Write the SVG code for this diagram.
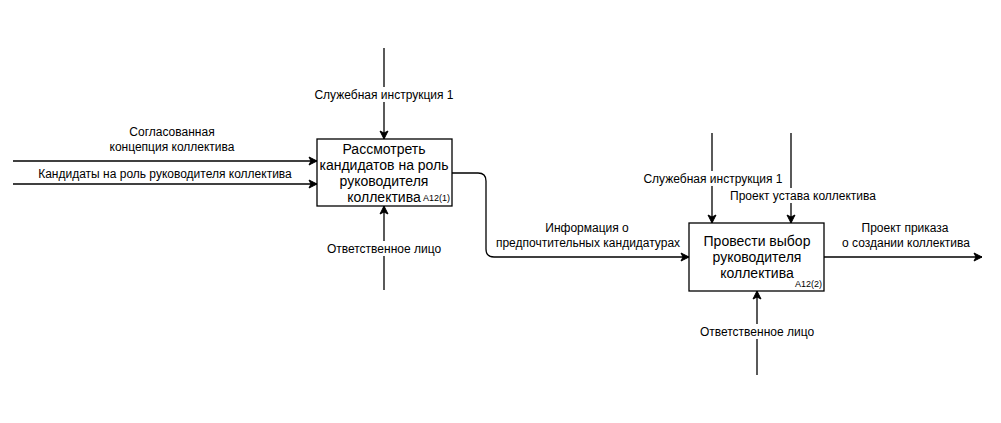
<svg xmlns="http://www.w3.org/2000/svg" width="1001" height="423" viewBox="0 0 1001 423">
<defs>
<marker id="arr" markerWidth="10" markerHeight="10" refX="9" refY="5" orient="auto" markerUnits="userSpaceOnUse">
<path d="M1,1 L9,5 L1,9 L3,5 Z" fill="#000" stroke="#000" stroke-width="1"/>
</marker>
<style>
.ln{fill:none;stroke:#000;stroke-width:1.3}
.box{fill:#fff;stroke:#000;stroke-width:1.3}
.lb{font-family:"Liberation Sans",Arial,sans-serif;font-size:12px;fill:#000;text-anchor:middle}
.bt{font-family:"Liberation Sans",Arial,sans-serif;font-size:14px;fill:#000;text-anchor:middle}
.id{font-family:"Liberation Sans",Arial,sans-serif;font-size:9px;fill:#000;text-anchor:end}
.bg{fill:#fff}
</style>
</defs>
<rect width="1001" height="423" fill="#fff"/>
<g id="connectors">
<path class="ln" d="M13,161 H317" marker-end="url(#arr)"/>
<path class="ln" d="M13,184 H317" marker-end="url(#arr)"/>
<path class="ln" d="M384,48 V139" marker-end="url(#arr)"/>
<path class="ln" d="M384,290 V206" marker-end="url(#arr)"/>
<path class="ln" d="M452,173 H478 Q486,173 486,181 V249 Q486,257 494,257 H689" marker-end="url(#arr)"/>
<path class="ln" d="M712,133 V223" marker-end="url(#arr)"/>
<path class="ln" d="M791,133 V223" marker-end="url(#arr)"/>
<path class="ln" d="M757,375 V291" marker-end="url(#arr)"/>
<path class="ln" d="M824,257 H982" marker-end="url(#arr)"/>
</g>
<g id="labels">
<text class="lb" x="172" y="136">Согласованная</text>
<text class="lb" x="172" y="151">концепция коллектива</text>
<text class="lb" x="165" y="178">Кандидаты на роль руководителя коллектива</text>
<rect class="bg" x="312" y="87" width="144" height="15"/>
<text class="lb" x="384" y="99">Служебная инструкция 1</text>
<rect class="bg" x="326" y="241" width="116" height="15"/>
<text class="lb" x="384" y="253">Ответственное лицо</text>
<text class="lb" x="587" y="232">Информация о</text>
<text class="lb" x="588" y="247">предпочтительных кандидатурах</text>
<rect class="bg" x="641" y="171" width="144" height="15"/>
<text class="lb" x="713" y="183">Служебная инструкция 1</text>
<rect class="bg" x="726" y="188" width="154" height="15"/>
<text class="lb" x="803" y="200">Проект устава коллектива</text>
<rect class="bg" x="699" y="324" width="116" height="15"/>
<text class="lb" x="757" y="336">Ответственное лицо</text>
<text class="lb" x="905" y="232">Проект приказа</text>
<text class="lb" x="906" y="247">о создании коллектива</text>
</g>
<g id="node1">
<rect class="box" x="317" y="139" width="135" height="67"/>
<text class="bt" x="384" y="154">Рассмотреть</text>
<text class="bt" x="384" y="170">кандидатов на роль</text>
<text class="bt" x="384" y="186">руководителя</text>
<text class="bt" x="384" y="202">коллектива</text>
<text class="id" x="450" y="201">A12(1)</text>
</g>
<g id="node2">
<rect class="box" x="689" y="223" width="135" height="68"/>
<text class="bt" x="757" y="246">Провести выбор</text>
<text class="bt" x="757" y="262">руководителя</text>
<text class="bt" x="757" y="278">коллектива</text>
<text class="id" x="822" y="287">A12(2)</text>
</g>
</svg>
